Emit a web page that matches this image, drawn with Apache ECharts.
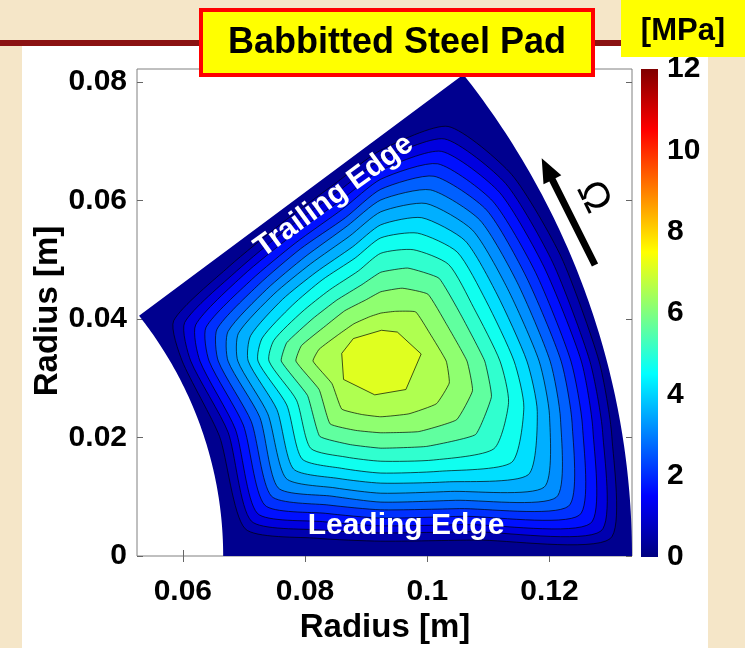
<!DOCTYPE html>
<html><head><meta charset="utf-8">
<script src="https://cdn.jsdelivr.net/npm/echarts@6/dist/echarts.min.js"></script>
<style>html,body{margin:0;padding:0;background:#f5e6c8;} #chart{width:745px;height:648px;}</style>
</head><body><div id="chart"></div>
<script>
// ---- pad geometry (metres / degrees) ----
const padInnerRadius = 0.0666;
const padOuterRadius = 0.1335;
const padAngleDeg = 37.5;

// ---- contour levels (MPa) and their iso-lines [x (m), y (m)] ----
const pressureLevels = [0.5, 1, 1.5, 2, 2.5, 3, 3.5, 4, 4.5, 5, 5.5, 6, 6.5, 7];

const contour_0_5 = [[0.1281,0.0329],[0.1302,0.0202],[0.1299,0.0029],[0.1079,0.0027],[0.0924,0.0025],[0.0819,0.0030],[0.0702,0.0046],[0.0660,0.0202],[0.0599,0.0329],[0.0585,0.0397],[0.0676,0.0489],[0.0761,0.0561],[0.0851,0.0630],[0.0924,0.0685],[0.1034,0.0725],[0.1138,0.0644],[0.1219,0.0505]];
const contour_1_0 = [[0.1266,0.0329],[0.1287,0.0208],[0.1284,0.0042],[0.1073,0.0041],[0.0924,0.0039],[0.0824,0.0044],[0.0712,0.0059],[0.0674,0.0209],[0.0613,0.0329],[0.0603,0.0394],[0.0688,0.0481],[0.0768,0.0550],[0.0855,0.0616],[0.0924,0.0668],[0.1028,0.0704],[0.1128,0.0629],[0.1205,0.0496]];
const contour_1_5 = [[0.1252,0.0329],[0.1271,0.0213],[0.1267,0.0055],[0.1066,0.0053],[0.0924,0.0051],[0.0829,0.0058],[0.0722,0.0072],[0.0686,0.0214],[0.0628,0.0329],[0.0621,0.0390],[0.0699,0.0474],[0.0776,0.0539],[0.0859,0.0601],[0.0924,0.0651],[0.1023,0.0683],[0.1118,0.0614],[0.1191,0.0488]];
const contour_2_0 = [[0.1235,0.0329],[0.1254,0.0219],[0.1249,0.0069],[0.1059,0.0067],[0.0924,0.0064],[0.0834,0.0072],[0.0734,0.0086],[0.0699,0.0221],[0.0643,0.0329],[0.0638,0.0386],[0.0712,0.0466],[0.0784,0.0528],[0.0862,0.0586],[0.0924,0.0636],[0.1017,0.0662],[0.1107,0.0599],[0.1177,0.0479]];
const contour_2_5 = [[0.1219,0.0329],[0.1237,0.0224],[0.1231,0.0084],[0.1053,0.0080],[0.0924,0.0078],[0.0839,0.0086],[0.0745,0.0101],[0.0712,0.0227],[0.0658,0.0329],[0.0656,0.0383],[0.0724,0.0458],[0.0792,0.0518],[0.0866,0.0571],[0.0924,0.0619],[0.1011,0.0641],[0.1097,0.0584],[0.1162,0.0471]];
const contour_3_0 = [[0.1201,0.0329],[0.1218,0.0231],[0.1211,0.0099],[0.1046,0.0094],[0.0924,0.0091],[0.0844,0.0101],[0.0756,0.0115],[0.0726,0.0234],[0.0674,0.0329],[0.0674,0.0379],[0.0737,0.0450],[0.0800,0.0505],[0.0869,0.0557],[0.0924,0.0601],[0.1005,0.0618],[0.1086,0.0567],[0.1147,0.0462]];
const contour_3_5 = [[0.1183,0.0329],[0.1200,0.0237],[0.1191,0.0116],[0.1038,0.0109],[0.0924,0.0106],[0.0849,0.0115],[0.0769,0.0131],[0.0739,0.0240],[0.0690,0.0329],[0.0691,0.0376],[0.0749,0.0442],[0.0809,0.0493],[0.0873,0.0540],[0.0924,0.0581],[0.0998,0.0595],[0.1074,0.0550],[0.1131,0.0452]];
const contour_4_0 = [[0.1163,0.0329],[0.1180,0.0244],[0.1165,0.0137],[0.1030,0.0125],[0.0924,0.0123],[0.0854,0.0131],[0.0781,0.0147],[0.0754,0.0247],[0.0707,0.0329],[0.0711,0.0372],[0.0763,0.0433],[0.0818,0.0479],[0.0878,0.0522],[0.0924,0.0559],[0.0991,0.0571],[0.1062,0.0532],[0.1114,0.0442]];
const contour_4_5 = [[0.1142,0.0329],[0.1158,0.0251],[0.1138,0.0158],[0.1020,0.0143],[0.0924,0.0140],[0.0860,0.0148],[0.0795,0.0164],[0.0770,0.0255],[0.0723,0.0329],[0.0730,0.0368],[0.0779,0.0423],[0.0828,0.0466],[0.0882,0.0503],[0.0924,0.0537],[0.0984,0.0545],[0.1049,0.0513],[0.1096,0.0431]];
const contour_5_0 = [[0.1119,0.0329],[0.1133,0.0259],[0.1109,0.0181],[0.1010,0.0162],[0.0924,0.0160],[0.0867,0.0167],[0.0809,0.0182],[0.0786,0.0263],[0.0741,0.0329],[0.0749,0.0364],[0.0795,0.0412],[0.0840,0.0449],[0.0887,0.0481],[0.0924,0.0511],[0.0977,0.0517],[0.1035,0.0492],[0.1076,0.0419]];
const contour_5_5 = [[0.1094,0.0329],[0.1105,0.0269],[0.1079,0.0205],[0.0999,0.0185],[0.0924,0.0182],[0.0874,0.0188],[0.0824,0.0202],[0.0804,0.0271],[0.0761,0.0329],[0.0770,0.0360],[0.0813,0.0401],[0.0852,0.0432],[0.0893,0.0458],[0.0924,0.0479],[0.0968,0.0486],[0.1019,0.0469],[0.1055,0.0407]];
const contour_6_0 = [[0.1065,0.0329],[0.1074,0.0279],[0.1048,0.0230],[0.0986,0.0210],[0.0924,0.0208],[0.0883,0.0212],[0.0841,0.0223],[0.0823,0.0281],[0.0785,0.0329],[0.0794,0.0355],[0.0833,0.0388],[0.0865,0.0414],[0.0899,0.0432],[0.0924,0.0446],[0.0959,0.0452],[0.1001,0.0442],[0.1031,0.0392]];
const contour_6_5 = [[0.1031,0.0329],[0.1036,0.0292],[0.1015,0.0257],[0.0970,0.0240],[0.0924,0.0235],[0.0892,0.0239],[0.0860,0.0248],[0.0844,0.0291],[0.0813,0.0329],[0.0823,0.0349],[0.0855,0.0374],[0.0880,0.0392],[0.0906,0.0404],[0.0924,0.0410],[0.0948,0.0413],[0.0981,0.0412],[0.1004,0.0376]];
const contour_7_0 = [[0.0860,0.0342],[0.0879,0.0367],[0.0925,0.0381],[0.0951,0.0378],[0.0990,0.0341],[0.0965,0.0281],[0.0914,0.0272],[0.0863,0.0298]];

const contourLines = [contour_0_5, contour_1_0, contour_1_5, contour_2_0, contour_2_5, contour_3_0, contour_3_5,
  contour_4_0, contour_4_5, contour_5_0, contour_5_5, contour_6_0, contour_6_5, contour_7_0];

// ---- axes ----
const xRange = [0.0525, 0.1335];
const yRange = [0, 0.0822];
const xTickValues = [0.06, 0.08, 0.1, 0.12];
const yTickValues = [0, 0.02, 0.04, 0.06, 0.08];
const colorbarRange = [0, 12];
const colorbarTickStep = 2;

// ---- helpers ----
const FONT = '"Liberation Sans", Arial, Helvetica, sans-serif';
function jetColor(v) {           // MATLAB jet(64) colour used by contourf for level v
  const m = 64;
  let idx = Math.floor((v - colorbarRange[0]) / (colorbarRange[1] - colorbarRange[0]) * m + 1e-9) + 1;
  idx = Math.min(Math.max(idx, 1), m);
  const t = idx / m;
  const c = x => Math.round(255 * Math.min(1, Math.max(0, x)));
  return 'rgb(' + c(1.5 - Math.abs(4 * t - 3)) + ',' + c(1.5 - Math.abs(4 * t - 2)) + ',' + c(1.5 - Math.abs(4 * t - 1)) + ')';
}
function padOutline() {          // annular sector of the pad
  const pts = [], n = 80, a = padAngleDeg * Math.PI / 180;
  for (let i = 0; i <= n; i++) { const t = a * i / n; pts.push([padOuterRadius * Math.cos(t), padOuterRadius * Math.sin(t)]); }
  for (let i = n; i >= 0; i--) { const t = a * i / n; pts.push([padInnerRadius * Math.cos(t), padInnerRadius * Math.sin(t)]); }
  return pts;
}
const regions = [{ level: 0, pts: padOutline(), edge: false, smooth: 0 }]
  .concat(pressureLevels.map((L, i) => ({ level: L, pts: contourLines[i], edge: true,
    smooth: L >= 7 ? 0 : (L >= 5.5 ? 0.12 : 0.22) })));

const fmt = v => String(+(+v).toFixed(2));
const tickStyle = { show: true, inside: true, length: 6, lineStyle: { color: '#666', width: 1 } };
const labelFont = { fontFamily: FONT, fontWeight: 'bold', fontSize: 30, color: '#000' };

const option = {
  animation: false,
  backgroundColor: '#f5e6c8',
  grid: [
    { left: 137, right: 113, top: 69, bottom: 92, show: true, borderColor: '#808080', borderWidth: 1, backgroundColor: '#ffffff', outerBoundsMode: 'none' },
    { left: 641, width: 17, top: 69, height: 488, show: false, outerBoundsMode: 'none' }
  ],
  xAxis: [
    { type: 'value', gridIndex: 0, position: 'bottom', min: xRange[0], max: xRange[1],
      axisLine: { show: false }, splitLine: { show: false },
      axisTick: Object.assign({ customValues: xTickValues }, tickStyle),
      axisLabel: Object.assign({ customValues: xTickValues, margin: 21, formatter: fmt }, labelFont) },
    { type: 'value', gridIndex: 0, position: 'top', min: xRange[0], max: xRange[1],
      axisLine: { show: false }, splitLine: { show: false },
      axisTick: Object.assign({ customValues: xTickValues }, tickStyle),
      axisLabel: { show: false } },
    { type: 'value', gridIndex: 1, min: 0, max: 1, show: false }
  ],
  yAxis: [
    { type: 'value', gridIndex: 0, position: 'left', min: yRange[0], max: yRange[1],
      axisLine: { show: false }, splitLine: { show: false },
      axisTick: Object.assign({ customValues: yTickValues }, tickStyle),
      axisLabel: Object.assign({ customValues: yTickValues, margin: 10, formatter: fmt }, labelFont) },
    { type: 'value', gridIndex: 0, position: 'right', min: yRange[0], max: yRange[1],
      axisLine: { show: false }, splitLine: { show: false },
      axisTick: Object.assign({ customValues: yTickValues }, tickStyle),
      axisLabel: { show: false } },
    { type: 'value', gridIndex: 1, position: 'right', min: colorbarRange[0], max: colorbarRange[1], interval: colorbarTickStep,
      axisLine: { show: false }, axisTick: { show: false }, splitLine: { show: false },
      axisLabel: Object.assign({ margin: 9, padding: [8, 0, 0, 0] }, labelFont) }
  ],
  series: [
    { type: 'custom', name: 'pressure', xAxisIndex: 0, yAxisIndex: 0, silent: true, z: 2,
      encode: { x: 0, y: 1 },
      data: regions.map(r => [r.pts[0][0], r.pts[0][1], r.level]),
      renderItem: function (params, api) {
        const r = regions[params.dataIndex];
        return { type: 'polygon',
          shape: { points: r.pts.map(p => api.coord(p)), smooth: r.smooth },
          style: { fill: jetColor(r.level), stroke: r.edge ? 'rgba(0,0,0,0.85)' : null, lineWidth: r.edge ? 0.8 : 0 } };
      } },
    { type: 'custom', name: 'colorbar', xAxisIndex: 2, yAxisIndex: 2, silent: true, z: 2,
      encode: { x: 0, y: 1 },
      data: [[0, colorbarRange[0], colorbarRange[1]]],
      renderItem: function (params, api) {
        const p0 = api.coord([0, colorbarRange[1]]), p1 = api.coord([1, colorbarRange[0]]);
        return { type: 'rect', shape: { x: p0[0], y: p0[1], width: p1[0] - p0[0], height: p1[1] - p0[1] },
          style: { fill: new echarts.graphic.LinearGradient(0, 0, 0, 1, [
            { offset: 0, color: 'rgb(128,0,0)' }, { offset: 1 / 8, color: 'rgb(255,0,0)' },
            { offset: 3 / 8, color: 'rgb(255,255,0)' }, { offset: 5 / 8, color: 'rgb(0,255,255)' },
            { offset: 7 / 8, color: 'rgb(0,0,255)' }, { offset: 1, color: 'rgb(0,0,128)' }]) } };
      } }
  ],
  graphic: { elements: [
    { type: 'rect', z: -10, shape: { x: 22, y: 46, width: 686, height: 602 }, style: { fill: '#ffffff' } },
    { type: 'rect', z: -9, shape: { x: 0, y: 40, width: 745, height: 6 }, style: { fill: '#8b1212' } },
    { type: 'rect', z: 50, shape: { x: 201, y: 10, width: 392, height: 65 }, style: { fill: '#ffff00', stroke: '#ff0000', lineWidth: 4 } },
    { type: 'text', z: 51, x: 397, y: 43, style: { text: 'Babbitted Steel Pad', font: 'bold 36px ' + FONT, fill: '#000', align: 'center', verticalAlign: 'middle', textAlign: 'center', textVerticalAlign: 'middle' } },
    { type: 'rect', z: 50, shape: { x: 621, y: 0, width: 124, height: 57 }, style: { fill: '#ffff00' } },
    { type: 'text', z: 51, x: 683, y: 31, style: { text: '[MPa]', font: 'bold 31px ' + FONT, fill: '#000', align: 'center', verticalAlign: 'middle', textAlign: 'center', textVerticalAlign: 'middle' } },
    { type: 'text', z: 51, x: 385, y: 628, style: { text: 'Radius [m]', font: 'bold 33px ' + FONT, fill: '#000', align: 'center', verticalAlign: 'middle', textAlign: 'center', textVerticalAlign: 'middle' } },
    { type: 'text', z: 51, x: 48, y: 311, rotation: Math.PI / 2, style: { text: 'Radius [m]', font: 'bold 33px ' + FONT, fill: '#000', align: 'center', verticalAlign: 'middle', textAlign: 'center', textVerticalAlign: 'middle' } },
    { type: 'text', z: 51, x: 334, y: 196, rotation: 36 * Math.PI / 180, style: { text: 'Trailing Edge', font: 'bold 30px ' + FONT, fill: '#ffffff', align: 'center', verticalAlign: 'middle', textAlign: 'center', textVerticalAlign: 'middle' } },
    { type: 'text', z: 51, x: 406, y: 526, style: { text: 'Leading Edge', font: 'bold 30px ' + FONT, fill: '#ffffff', align: 'center', verticalAlign: 'middle', textAlign: 'center', textVerticalAlign: 'middle' } },
    { type: 'polygon', z: 51, shape: { points: [[598.1, 263.4], [555.5, 178.2], [561.3, 175.3], [541.7, 158.3], [543.5, 184.3], [549.3, 181.4], [591.9, 266.6]] }, style: { fill: '#000' } },
    { type: 'text', z: 51, x: 593, y: 197, rotation: -64 * Math.PI / 180, style: { text: 'Ω', font: '40px ' + FONT, fill: '#000', align: 'center', verticalAlign: 'middle', textAlign: 'center', textVerticalAlign: 'middle' } }
  ] }
};

const chart = echarts.init(document.getElementById('chart'), null, { renderer: 'canvas', width: 745, height: 648 });
chart.setOption(option);
</script>
</body></html>
